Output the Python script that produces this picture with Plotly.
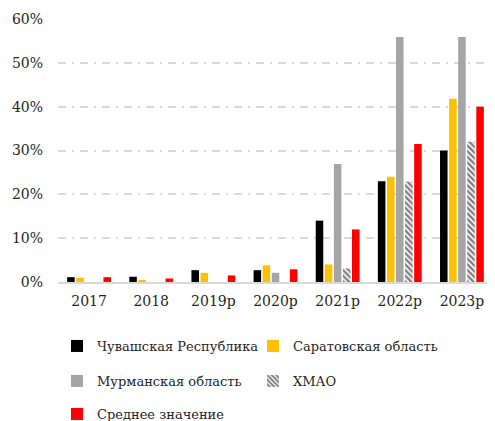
import plotly.graph_objects as go

years = ["2017", "2018", "2019р", "2020р", "2021р", "2022р", "2023р"]
chuvash = [0.011, 0.012, 0.027, 0.027, 0.140, 0.230, 0.300]
saratov = [0.010, 0.004, 0.021, 0.038, 0.040, 0.240, 0.418]
murmansk = [None, None, None, 0.021, 0.269, 0.559, 0.559]
hmao = [None, None, None, None, 0.031, 0.229, 0.320]
average = [0.011, 0.008, 0.015, 0.029, 0.120, 0.315, 0.400]

names = ["Чувашская Республика", "Саратовская область", "Мурманская область", "ХМАО", "Среднее значение"]
font_family = "DejaVu Serif"
txt = "#262626"

W, H = 487, 413  # page body has an 8px margin inside the 495x421 window

fig = go.Figure()
fig.add_bar(x=years, y=chuvash, name=names[0], marker=dict(color="#000000", line=dict(width=0)), legend="legend")
fig.add_bar(x=years, y=saratov, name=names[1], marker=dict(color="#FFC000", line=dict(width=0)), legend="legend")
fig.add_bar(x=years, y=murmansk, name=names[2], marker=dict(color="#A5A5A5", line=dict(width=0)), legend="legend2")
fig.add_bar(x=years, y=hmao, name=names[3],
            marker=dict(color="#FFFFFF", line=dict(width=0),
                        pattern=dict(shape="\\", fgcolor="#000000", bgcolor="#FFFFFF", size=4, solidity=0.6)),
            legend="legend2")
fig.add_bar(x=years, y=average, name=names[4], marker=dict(color="#FF0000", line=dict(width=0)), legend="legend3")

leg_common = dict(orientation="h", xref="container", yref="container", x=49 / W, xanchor="left",
                  yanchor="middle", font=dict(family=font_family, size=13, color=txt),
                  entrywidth=151, bgcolor="rgba(0,0,0,0)")

fig.update_layout(
    width=W, height=H,
    margin=dict(l=50, r=2, t=11, b=139),
    paper_bgcolor="white", plot_bgcolor="white",
    barmode="group", bargap=0.27, bargroupgap=0.17,
    font=dict(family=font_family, size=14, color=txt),
    legend=dict(**leg_common, y=1 - 338 / H),
    legend2=dict(**leg_common, y=1 - 373 / H),
    legend3=dict(**leg_common, y=1 - 406 / H),
    xaxis=dict(showgrid=False, showline=True, linecolor="#D9D9D9", linewidth=2,
               tickfont=dict(family=font_family, size=14, color=txt), ticklabelstandoff=5),
    yaxis=dict(range=[0, 0.6], dtick=0.1, tickformat=".0%", showgrid=True,
               gridcolor="#D9D9D9", gridwidth=2, griddash="8px,6px,2px,6px", zeroline=False,
               tickfont=dict(family=font_family, size=14, color=txt), ticklabelstandoff=14),
)

fig.write_html("out.html")
